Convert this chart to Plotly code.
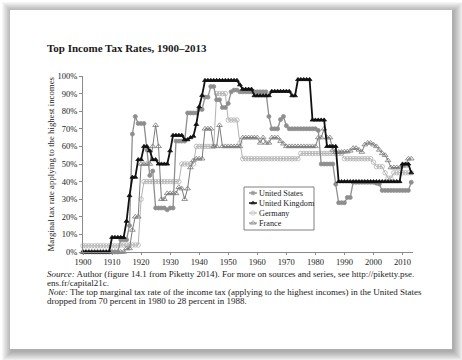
import plotly.graph_objects as go

years = list(range(1900, 2014))

united_states = [0,0,0,0,0,0,0,0,0,0,0,0,0,
    7,7,7,15,67,77,73,73,73,58,43.5,46,25,25,25,25,24,25,25,
    63,63,63,63,79,79,79,79,81.1,81,88,88,94,94,86.5,86.5,82.1,82.1,84.4,91,92,92,
    91,91,91,91,91,91,91,91,91,91,77,70,70,70,75.3,77,71.8,
    70,70,70,70,70,70,70,70,70,70,69.1,50,50,50,50,50,38.5,28,28,28,31,31,
    39.6,39.6,39.6,39.6,39.6,39.6,39.6,39.6,39.1,38.6,
    35,35,35,35,35,35,35,35,35,35,39.6]

united_kingdom = [0,0,0,0,0,0,0,0,0,0,
    8.3,8.3,8.3,8.3,8.3,17.5,32,42.5,42.5,52.5,52.5,60,60,57.5,52.5,52.5,
    50,50,50,50,57.5,66.3,66.3,66.3,66.3,63.8,63.8,65,65.8,72.5,82.5,89,
    97.5,97.5,97.5,97.5,97.5,97.5,97.5,97.5,97.5,97.5,97.5,97.5,
    95,92.5,92.5,92.5,92.5,88.8,88.8,88.8,88.8,88.8,88.8,
    91.3,91.3,91.3,91.3,91.3,91.3,91.3,88.8,88.8,98,98,98,98,98,
    75,75,75,75,75,60,60,60,60,
    40,40,40,40,40,40,40,40,40,40,40,40,40,40,40,40,40,40,40,40,40,40,
    50,50,50,45]

germany = [3.5,3.5,3.5,3.5,3.5,3.5,3.5,3.5,3.5,3.5,3.5,3.5,3.5,
    4,4,4,4,4,4,4,30,
    40,40,40,40,40,40,40,40,40,40,40,40,40,
    50,50,50,50,50,60,60,60,60,60,60,60,90,90,90,90,75,75,75,75,62,
    53,53,53,53,53,53,53,53,53,53,53,53,53,53,53,53,53,53,53,53,
    56,56,56,56,56,56,56,56,56,56,56,56,56,56,56,
    53,53,53,53,53,53,53,53,53,53,51,48.5,48.5,48.5,45,42,42,
    45,45,45,45,45,45,45]

france = [0,0,0,0,0,0,0,0,0,0,0,0,0,0,0,
    2,2,12.5,20,20,50,50,50,50,60,72,60,30,30,33.3,33.3,33.3,33.3,36.8,36,30,36,48,52,
    53,53,53,70,70,70,60,60,72,60,60,60,60,60,60,60,
    65,65,65,65,65,65,62,65,62,62,65,65,65,63,61.5,
    60,60,60,60,60,60,60,60,60,60,60,65,65,70,65,65,58,56.8,56.8,56.8,
    57,57,57.5,59,59,58,56.8,61,62,62,61,60,58,56,55,52,48,48,48,48,49,49,53,53]

x_ticks = list(range(1900, 2011, 10))
y_ticks = list(range(0, 101, 10))
y_tick_labels = [f"{v}%" for v in y_ticks]

series = [
    ("Germany", germany, "#b3b3b3", 1.0, "circle-open", 4.5),
    ("France", france, "#7a7a7a", 1.0, "triangle-up-open", 5),
    ("United States", united_states, "#8e8e8e", 1.3, "circle", 4),
    ("United Kingdom", united_kingdom, "#111111", 1.8, "triangle-up", 4.2),
]
legend_order = ["United States", "United Kingdom", "Germany", "France"]

L, R, T, B = 83, 49, 76, 108
WW, HH = 462, 360
W = WW - L - R
H = HH - T - B

def px(x):
    return (x - L) / W

def py(y):
    return (HH - B - y) / H

fig = go.Figure()
for name, vals, color, lw, sym, ms in series:
    fig.add_trace(go.Scatter(
        x=years, y=vals, mode="lines+markers", name=name,
        line=dict(color=color, width=lw),
        marker=dict(symbol=sym, size=ms, color=color, line=dict(width=0.8, color=color)),
        cliponaxis=False, showlegend=False))

# manual legend samples in an inset subplot
style = {s[0]: s for s in series}
for i, name in enumerate(legend_order):
    _, _, color, lw, sym, ms = style[name]
    yy = 3.5 - i
    fig.add_trace(go.Scatter(
        x=[0, 0.5, 1], y=[yy, yy, yy], mode="lines+markers",
        line=dict(color=color, width=min(lw, 1.5)),
        marker=dict(symbol=sym, size=[0, ms, 0], color=color, line=dict(width=0.8, color=color)),
        xaxis="x2", yaxis="y2", cliponaxis=False, showlegend=False, hoverinfo="skip"))

serif = "Liberation Serif"
txt = "#222222"
shapes = []
# page shadow
for k in range(10, 0, -1):
    shapes.append(dict(type="rect", xref="paper", yref="paper", layer="below",
                       x0=px(10 - k + 2), x1=px(452 + k + 1),
                       y0=py(349 + k + 2), y1=py(10 - k + 2),
                       line=dict(width=0), fillcolor="rgba(0,0,0,0.035)"))
shapes.append(dict(type="rect", xref="paper", yref="paper", layer="below",
                   x0=px(10), x1=px(452), y0=py(349), y1=py(10),
                   line=dict(width=0), fillcolor="white"))
shapes.append(dict(type="rect", xref="paper", yref="paper", layer="below",
                   x0=px(244), x1=px(314), y0=py(230), y1=py(187),
                   line=dict(width=1, color="#808080"), fillcolor="white"))

annotations = []
annotations.append(dict(text="<b>Top Income Tax Rates, 1900–2013</b>", x=px(45), y=py(48),
                        xref="paper", yref="paper", xanchor="left", yanchor="middle",
                        showarrow=False, font=dict(family=serif, size=11, color="#1a1a1a")))
annotations.append(dict(text="Marginal tax rate applying to the highest incomes", x=px(50), y=py(164.5),
                        xref="paper", yref="paper", xanchor="center", yanchor="middle", textangle=-90,
                        showarrow=False, font=dict(family=serif, size=8.8, color=txt)))
for i, name in enumerate(legend_order):
    annotations.append(dict(text=name, x=px(257), y=py(193.3 + 10 * i), xref="paper", yref="paper",
                            xanchor="left", yanchor="middle", showarrow=False,
                            font=dict(family=serif, size=8.2, color=txt)))
notes = [
    "<i>Source:</i> Author (figure 14.1 from Piketty 2014). For more on sources and series, see http://piketty.pse.",
    "ens.fr/capital21c.",
    "<i>Note:</i> The top marginal tax rate of the income tax (applying to the highest incomes) in the United States",
    "dropped from 70 percent in 1980 to 28 percent in 1988.",
]
for i, t in enumerate(notes):
    annotations.append(dict(text=t, x=px(45), y=py(273.5 + 9.2 * i), xref="paper", yref="paper",
                            xanchor="left", yanchor="middle", showarrow=False,
                            font=dict(family=serif, size=9, color=txt)))

fig.update_layout(
    width=WW, height=HH, margin=dict(l=L, r=R, t=T, b=B),
    paper_bgcolor="white", plot_bgcolor="rgba(0,0,0,0)",
    shapes=shapes, annotations=annotations,
    xaxis=dict(range=[1900, 2013.6], tickvals=x_ticks, showgrid=False, zeroline=False,
               showline=True, linecolor="#8a8a8a", linewidth=1, ticks="outside", ticklen=2,
               tickcolor="#8a8a8a", tickfont=dict(family=serif, size=8.5, color=txt)),
    yaxis=dict(range=[0, 100], tickvals=y_ticks, ticktext=y_tick_labels, showgrid=False, zeroline=False,
               showline=True, linecolor="#8a8a8a", linewidth=1, ticks="outside", ticklen=3,
               tickcolor="#8a8a8a", tickfont=dict(family=serif, size=8.5, color=txt)),
    xaxis2=dict(domain=[px(249), px(257)], range=[0, 1], anchor="y2", visible=False),
    yaxis2=dict(domain=[py(228), py(188)], range=[0, 4], anchor="x2", visible=False),
    showlegend=False,
)

fig.write_html("out.html", config={"displayModeBar": False},
               post_script="document.body.style.margin='0px';")
